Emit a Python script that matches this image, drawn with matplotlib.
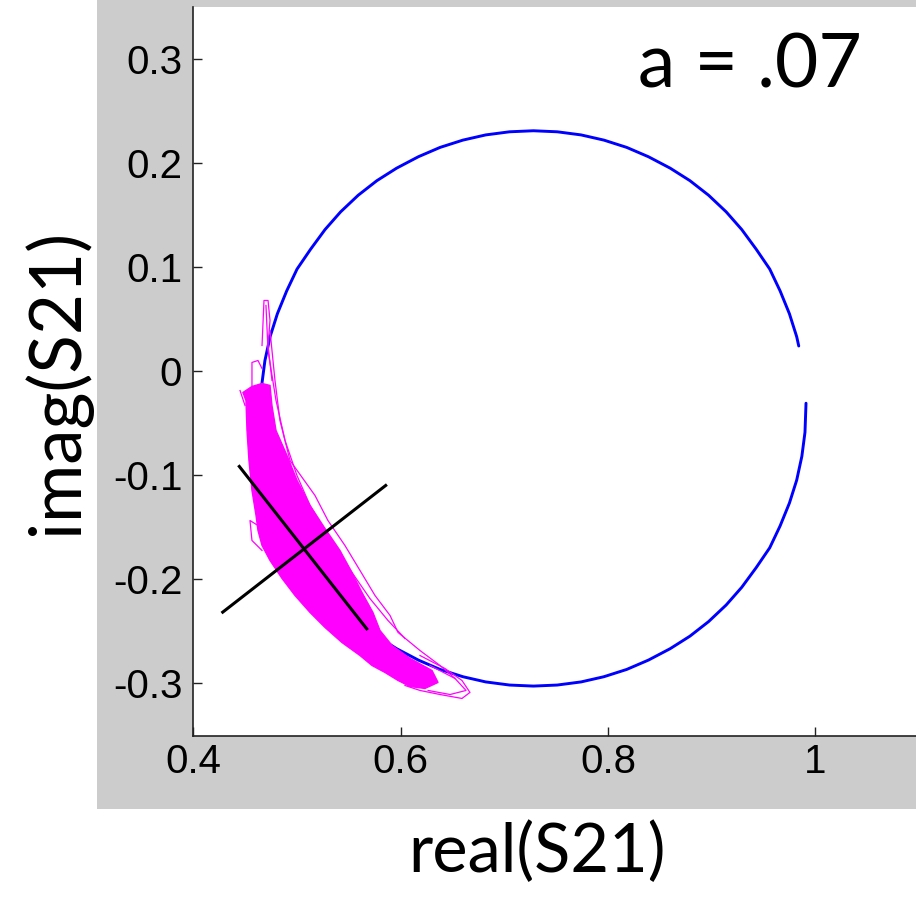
import matplotlib
matplotlib.use("Agg")
import matplotlib.pyplot as plt
from matplotlib.patches import Rectangle, Polygon

# Resonance circle (S21 in the complex plane), traced clockwise from below the gap
circle_re = [0.991, 0.990, 0.987, 0.982, 0.975, 0.966, 0.956, 0.943, 0.929, 0.914,
             0.897, 0.879, 0.860, 0.839, 0.818, 0.796, 0.774, 0.751, 0.728, 0.705,
             0.682, 0.660, 0.638, 0.617, 0.596, 0.577, 0.559, 0.542, 0.527, 0.513,
             0.500, 0.490, 0.481, 0.474, 0.469, 0.466, 0.465, 0.466, 0.469, 0.474,
             0.481, 0.490, 0.500, 0.513, 0.527, 0.542, 0.559, 0.577, 0.596, 0.617,
             0.638, 0.660, 0.682, 0.705, 0.728, 0.751, 0.774, 0.796, 0.818, 0.839,
             0.860, 0.879, 0.897, 0.914, 0.929, 0.943, 0.956, 0.966, 0.975, 0.982,
             0.984]
circle_im = [-0.031, -0.059, -0.082, -0.105, -0.127, -0.149, -0.170, -0.189, -0.208, -0.225,
             -0.241, -0.255, -0.267, -0.278, -0.287, -0.294, -0.299, -0.302, -0.303, -0.302,
             -0.299, -0.294, -0.287, -0.278, -0.267, -0.255, -0.241, -0.225, -0.208, -0.189,
             -0.170, -0.149, -0.127, -0.105, -0.082, -0.059, -0.036, -0.013, 0.010, 0.033,
             0.055, 0.077, 0.098, 0.117, 0.136, 0.153, 0.169, 0.183, 0.195, 0.206,
             0.215, 0.222, 0.227, 0.230, 0.231, 0.230, 0.227, 0.222, 0.215, 0.206,
             0.195, 0.183, 0.169, 0.153, 0.136, 0.117, 0.098, 0.077, 0.055, 0.033,
             0.024]

# Dense cloud of the noisy trajectory (outline of the filled core)
cloud_re = [0.4478, 0.4507, 0.4517, 0.4536, 0.4565, 0.4604, 0.4623, 0.4662, 0.4739, 0.4855,
            0.4980, 0.5125, 0.5269, 0.5433, 0.5607, 0.5723, 0.5848, 0.5974, 0.6090,
            0.6234, 0.6360, 0.6302, 0.6090, 0.5916, 0.5800, 0.5732, 0.5626, 0.5530,
            0.5414, 0.5269, 0.5125, 0.5000, 0.4903, 0.4797, 0.4758, 0.4739, 0.4662, 0.4565]
cloud_im = [-0.0207, -0.0284, -0.0572, -0.0861, -0.1149, -0.1389, -0.1534, -0.1678, -0.1822, -0.1995,
            -0.2159, -0.2322, -0.2466, -0.2611, -0.2736, -0.2832, -0.2899, -0.2976, -0.3034,
            -0.3053, -0.2995, -0.2880, -0.2764, -0.2639, -0.2495, -0.2322, -0.2130, -0.1938,
            -0.1726, -0.1514, -0.1293, -0.1053, -0.0813, -0.0572, -0.0332, -0.0139, -0.0120, -0.0149]

# Individual excursions of the trajectory outside the core
strand_a_re = [0.4739, 0.4787, 0.4835, 0.4932, 0.5173, 0.5298, 0.5462, 0.5607, 0.5752,
               0.5897, 0.5974, 0.6186, 0.6379, 0.6524]
strand_a_im = [0.0389, -0.0091, -0.0476, -0.0861, -0.1197, -0.1438, -0.1678, -0.1918, -0.2159,
               -0.2351, -0.2514, -0.2688, -0.2832, -0.2957]
strand_b_re = [0.4700, 0.4720, 0.4797, 0.4884, 0.4999, 0.5125, 0.5240, 0.5376, 0.5530,
               0.5703, 0.5877, 0.6041]
strand_b_im = [0.0630, 0.0197, -0.0284, -0.0668, -0.1005, -0.1293, -0.1486, -0.1707, -0.1938,
               -0.2188, -0.2399, -0.2572]
tail1_re = [0.6186, 0.6427, 0.6591, 0.6668, 0.6591, 0.6379, 0.6186, 0.6041]
tail1_im = [-0.2736, -0.2861, -0.2976, -0.3091, -0.3149, -0.3111, -0.3072, -0.3024]
tail2_re = [0.6283, 0.6524, 0.6630, 0.6476, 0.6264]
tail2_im = [-0.2832, -0.2957, -0.3072, -0.3111, -0.3072]
spike_re = [0.4662, 0.4681, 0.4720, 0.4739, 0.4720, 0.4758]
spike_im = [0.0245, 0.0678, 0.0678, 0.0486, 0.0245, -0.0091]
loop_tl_re = [0.4565, 0.4565, 0.4623, 0.4662]
loop_tl_im = [-0.0139, 0.0082, 0.0101, 0.0024]
spike_l_re = [0.4450, 0.4498]
spike_l_im = [-0.0188, -0.0332]
loop_l_re = [0.4623, 0.4546, 0.4565, 0.4662]
loop_l_im = [-0.1486, -0.1438, -0.1630, -0.1726]

# Principal axes of the noise cloud
axis1_re = [0.4443, 0.5672]
axis1_im = [-0.0918, -0.2479]
axis2_re = [0.4283, 0.5855]
axis2_im = [-0.2319, -0.1101]

xticks = [0.4, 0.6, 0.8, 1.0]
xtick_labels = ["0.4", "0.6", "0.8", "1"]
yticks = [-0.3, -0.2, -0.1, 0.0, 0.1, 0.2, 0.3]
ytick_labels = ["-0.3", "-0.2", "-0.1", "0", "0.1", "0.2", "0.3"]

W, H = 916, 901
fig = plt.figure(figsize=(W / 100, H / 100), dpi=100)
fig.patch.set_facecolor("white")

# grey figure window behind the axes
fig.patches.append(Rectangle((97 / W, 1 - 809 / H), 1 - 97 / W, 809 / H,
                             transform=fig.transFigure, facecolor="#cccccc",
                             edgecolor="none", zorder=-10))

ax = fig.add_axes([193.4 / W, 1 - 736 / H, (919.0 - 193.4) / W, 729 / H])
ax.set_zorder(1)
ax.set_facecolor("white")
ax.set_xlim(0.4, 1.1)
ax.set_ylim(-0.351, 0.350)

magenta = "#ff00ff"
ax.plot(circle_re, circle_im, color="#0000ff", lw=2.1, zorder=2,
        solid_joinstyle="round", solid_capstyle="round")
ax.add_patch(Polygon(list(zip(cloud_re, cloud_im)), closed=True, facecolor=magenta,
                     edgecolor=magenta, lw=1.0, zorder=3))
for xs, ys in [(strand_a_re, strand_a_im), (strand_b_re, strand_b_im),
               (tail1_re, tail1_im), (tail2_re, tail2_im),
               (spike_re, spike_im), (loop_tl_re, loop_tl_im),
               (spike_l_re, spike_l_im), (loop_l_re, loop_l_im)]:
    ax.plot(xs, ys, color=magenta, lw=0.9, zorder=3)

ax.plot(axis1_re, axis1_im, color="black", lw=2.2, zorder=4)
ax.plot(axis2_re, axis2_im, color="black", lw=2.2, zorder=4)

for side in ("top", "right"):
    ax.spines[side].set_visible(False)
for side in ("left", "bottom"):
    ax.spines[side].set_linewidth(1.2)
    ax.spines[side].set_color("#222222")

ax.set_xticks(xticks)
ax.set_xticklabels(xtick_labels)
ax.set_yticks(yticks)
ax.set_yticklabels(ytick_labels)
for lab in ax.get_xticklabels() + ax.get_yticklabels():
    lab.set_fontfamily(["Liberation Sans", "DejaVu Sans"])
    lab.set_fontsize(29)
ax.tick_params(axis="both", direction="in", length=6.5, width=1.0, color="#222222")
ax.tick_params(axis="x", pad=5)
ax.tick_params(axis="y", pad=8)

label_font = ["Lato", "DejaVu Sans"]
fig.text(537 / W, 1 - 853 / H, "real(S21)", ha="center", va="center",
         fontsize=48, family=label_font)
fig.text(57 / W, 1 - 382 / H, "imag(S21)", ha="center", va="center",
         rotation=90, fontsize=51, family=label_font)
fig.text(862 / W, 1 - 88 / H, "a = .07", ha="right", va="baseline",
         fontsize=54, family=label_font)

fig.savefig("out.png", dpi=100)
